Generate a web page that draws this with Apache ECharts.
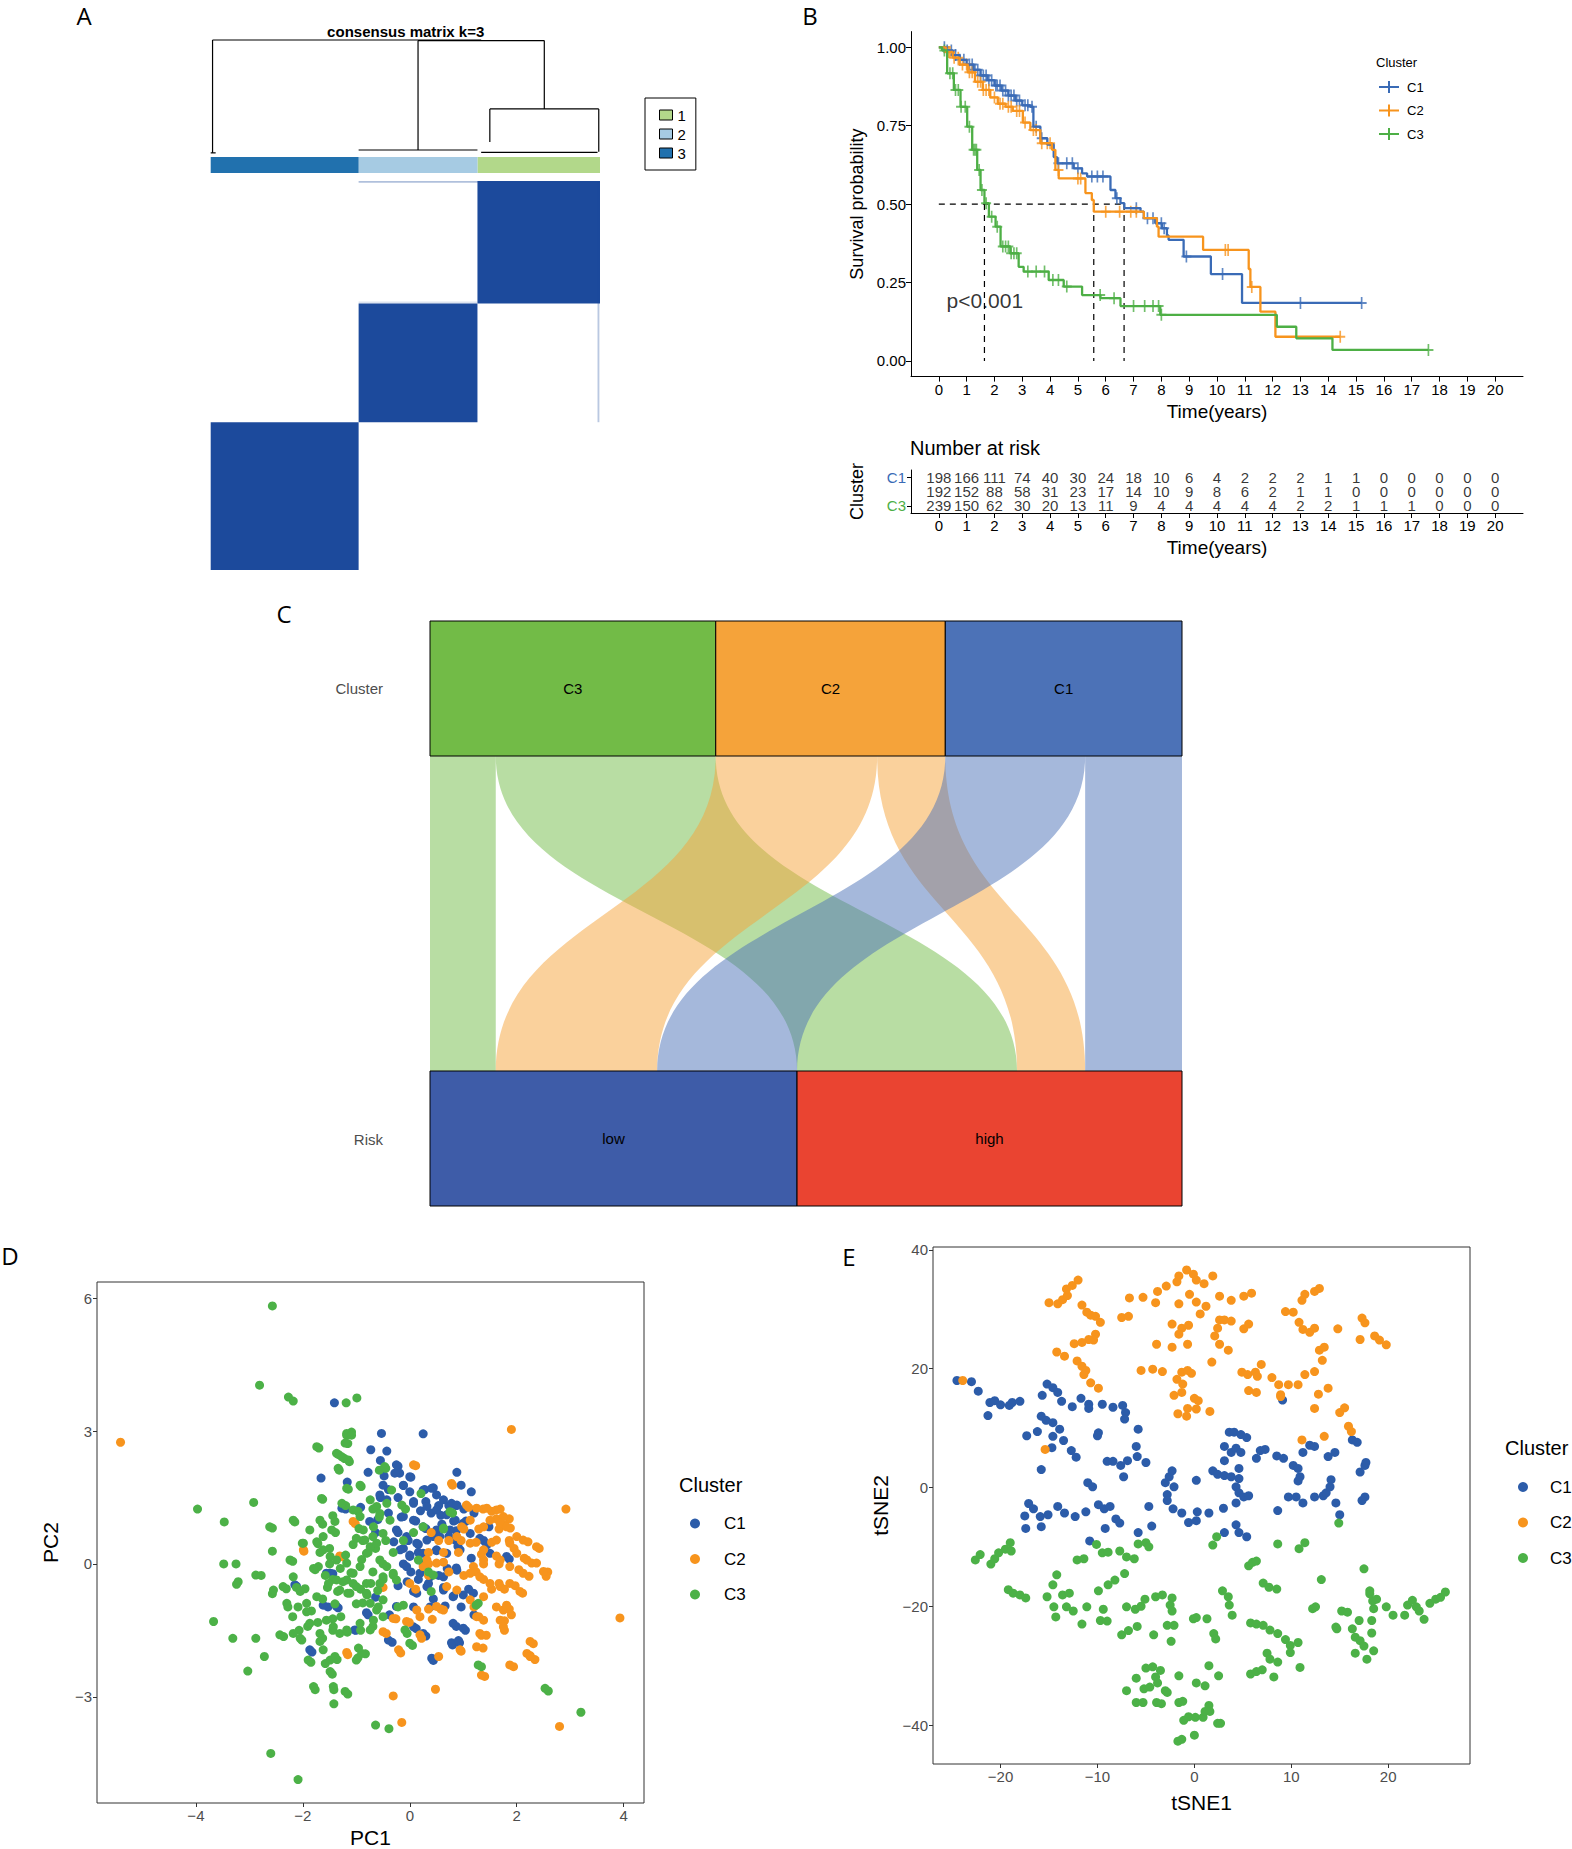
<!DOCTYPE html>
<html>
<head>
<meta charset="utf-8">
<title>Consensus clustering figure</title>
<script src="https://cdn.jsdelivr.net/npm/echarts@6/dist/echarts.min.js"></script>
<style>
html, body { margin: 0; padding: 0; background: #fff; }
#main { width: 1572px; height: 1849px; }
</style>
</head>
<body>
<div id="main"></div>
<script>
var FONT = '"Liberation Sans", Arial, sans-serif';
var LETTER_FONT = '"Open Sans", "DejaVu Sans", sans-serif';

// ---------- A: consensus matrix ----------
var matrixOrder = ['3', '2', '1'];
var matrixSizes = [239, 192, 198];
var bandColors = { '1': '#B2D88A', '2': '#A6CBE3', '3': '#2171AE' };
// faint low-consensus strips [x0, x1, y0, y1, value]
var faintCells = [[239, 629, 626, 629, 0.35], [625, 628, 239, 626, 0.3], [239, 431, 431, 434, 0.15]];
// dendrogram leaves [x, height], merges [childA, childB, height], flat bottoms [from, to, height]
var dendroLeaves = [[3, 0.01], [335, 0.035], [451, 0.105], [627, 0.02]];
var dendroMerges = [[2, 3, 0.395], [1, 4, 0.995], [0, 5, 1.0]];
var dendroFlat = [[0, 8, 0.01], [239, 431, 0.035], [437, 625, 0.015]];

// ---------- B: Kaplan-Meier ----------
var kmNames = ['C1', 'C2', 'C3'];
var kmColors = ['#3A6BB6', '#F7941D', '#4DAF45'];
var kmC1 = [[0, 1], [0.25, 0.99], [0.5, 0.975], [0.75, 0.96], [1.0, 0.945], [1.25, 0.928], [1.5, 0.91], [1.75, 0.895],
  [2.0, 0.878], [2.25, 0.862], [2.5, 0.846], [2.75, 0.83], [3.0, 0.815], [3.29, 0.81], [3.4, 0.747], [3.65, 0.71],
  [3.9, 0.69], [4.13, 0.65], [4.25, 0.63], [4.85, 0.614], [5.15, 0.598], [5.33, 0.588], [6.17, 0.545], [6.35, 0.519],
  [6.53, 0.503], [6.67, 0.487], [7.25, 0.476], [7.37, 0.455], [7.78, 0.439], [8.02, 0.423], [8.2, 0.40], [8.26, 0.386],
  [8.8, 0.333], [9.78, 0.277], [10.9, 0.185], [15.2, 0.185]];
var kmC2 = [[0, 1], [0.25, 0.985], [0.5, 0.967], [0.75, 0.945], [1.04, 0.92], [1.3, 0.89], [1.58, 0.864], [1.85, 0.84],
  [2.12, 0.82], [2.4, 0.81], [2.66, 0.797], [3.02, 0.76], [3.29, 0.736], [3.65, 0.694], [4.07, 0.673], [4.19, 0.609],
  [4.31, 0.582], [5.21, 0.582], [5.27, 0.535], [5.5, 0.513], [5.57, 0.476], [7.25, 0.476], [7.37, 0.455], [7.84, 0.428],
  [7.9, 0.396], [9.5, 0.354], [11.14, 0.293], [11.2, 0.236], [11.56, 0.157], [12.1, 0.077], [14.43, 0.077]];
var kmC3 = [[0, 1], [0.12, 0.99], [0.3, 0.917], [0.54, 0.864], [0.78, 0.81], [1.02, 0.747], [1.2, 0.673], [1.38, 0.609],
  [1.5, 0.545], [1.64, 0.503], [1.8, 0.46], [2.04, 0.428], [2.22, 0.365], [2.57, 0.343], [2.87, 0.30], [3.05, 0.285],
  [3.95, 0.258], [4.49, 0.237], [5.15, 0.21], [5.81, 0.20], [6.53, 0.175], [7.96, 0.147], [12.15, 0.109], [12.85, 0.072],
  [14.15, 0.035], [17.6, 0.035]];
var censorC1 = [0.2, 0.3, 0.45, 0.6, 0.75, 0.9, 1.1, 1.2, 1.3, 1.4, 1.5, 1.6, 1.7, 1.8, 1.9, 2.05, 2.1, 2.2, 2.3, 2.4,
  2.5, 2.6, 2.7, 2.8, 2.9, 3.1, 3.2, 3.35, 3.5, 3.7, 4.3, 4.6, 4.8, 5.0, 5.5, 5.7, 5.9, 6.4, 7.1, 7.5, 7.7, 8.0, 8.1,
  8.9, 10.2, 13.0, 15.2];
var censorC2 = [0.35, 0.4, 0.55, 0.7, 0.85, 1.0, 1.1, 1.2, 1.4, 1.5, 1.6, 1.7, 1.8, 2.0, 2.2, 2.3, 2.5, 2.6, 2.8, 2.9,
  3.1, 3.4, 3.5, 3.7, 3.9, 4.0, 4.3, 5.0, 5.1, 6.0, 6.5, 6.9, 7.1, 10.3, 10.4, 11.25, 14.43];
var censorC3 = [0.2, 0.4, 0.5, 0.6, 0.7, 0.8, 0.95, 1.1, 1.25, 1.3, 1.35, 1.45, 1.55, 1.7, 1.9, 2.1, 2.3, 2.4, 2.5,
  2.6, 2.7, 2.8, 3.2, 3.5, 3.8, 4.1, 4.3, 4.6, 5.8, 6.3, 7.0, 7.4, 7.7, 7.9, 8.0, 17.6];
var medianTimes = [6.66, 5.57, 1.64];
var timeTicks = [0, 1, 2, 3, 4, 5, 6, 7, 8, 9, 10, 11, 12, 13, 14, 15, 16, 17, 18, 19, 20];
var survTicks = [0, 0.25, 0.5, 0.75, 1];
var riskC1 = [198, 166, 111, 74, 40, 30, 24, 18, 10, 6, 4, 2, 2, 2, 1, 1, 0, 0, 0, 0, 0];
var riskC2 = [192, 152, 88, 58, 31, 23, 17, 14, 10, 9, 8, 6, 2, 1, 1, 0, 0, 0, 0, 0, 0];
var riskC3 = [239, 150, 62, 30, 20, 13, 11, 9, 4, 4, 4, 4, 4, 2, 2, 1, 1, 1, 0, 0, 0];

// ---------- C: alluvial ----------
var sankeyTop = ['C3', 'C2', 'C1'];
var sankeyBottom = ['low', 'high'];
var flowToLow = [55, 135, 117];
var flowToHigh = [184, 57, 81];
var sankeyColors = { C3: '#72BB47', C2: '#F5A33A', C1: '#4C72B7', low: '#3E5CA8', high: '#EA4431' };

// ---------- D: PCA ----------
var scatterColors = ['#2C5CA9', '#F7941D', '#4CB147'];
var pcaC1 = [[-1.41, 3.64], [-0.53, 2.95], [0.25, 2.94], [-0.73, 2.58], [-0.43, 2.55], [-0.55, 2.34], [-0.22, 2.21],
  [-0.19, 2.05], [-1.66, 1.94], [-0.78, 2.07], [-0.48, 1.99], [-1.17, 1.85], [0.02, 1.96], [0.88, 2.07], [0.96, 1.78],
  [1.15, 1.63], [-0.12, 1.77], [0.28, 1.68], [0.44, 1.72], [-0.40, 1.68], [-0.55, 1.50], [-0.22, 1.50], [0.07, 1.41],
  [0.30, 1.41], [0.54, 1.32], [0.73, 1.32], [0.87, 1.32], [1.01, 1.24], [1.20, 1.15], [-0.92, 1.28], [-1.20, 1.24],
  [-0.40, 1.15], [-0.16, 1.06], [0.11, 0.97], [0.40, 1.15], [0.58, 1.10], [0.82, 0.97], [1.05, 0.97], [1.48, 0.84],
  [-0.64, 0.71], [-0.22, 0.71], [-0.03, 0.53], [0.16, 0.44], [0.44, 0.62], [0.73, 0.62], [0.87, 0.75], [1.38, 0.53],
  [-0.12, 0.35], [0.16, 0.26], [-0.12, 0], [0.02, -0.18], [0.25, 0], [0.54, -0.26], [0.87, -0.09], [1.15, 0.13],
  [1.86, 0.11], [-1.44, -0.22], [-1.50, -0.22], [-2.12, -0.50], [0.16, -0.35], [0.35, -0.44], [0.63, -0.53],
  [1.10, -0.57], [-0.64, -0.75], [-0.22, -0.49], [0.07, -0.62], [0.44, -0.79], [0.82, -0.72], [-1.53, -0.97],
  [-1.34, -0.99], [-0.78, -1.15], [-0.38, -1.15], [0.07, -0.97], [0.38, -0.97], [0.66, -0.95], [0.96, -0.97],
  [0.87, -1.41], [1.04, -1.50], [0.12, -1.46], [0.30, -1.63], [-1.01, -1.50], [-0.33, -1.77], [-1.83, -1.99],
  [0.80, -1.83], [0.93, -1.78], [0.44, -2.18], [1.20, -1.15], [0.3, 0.8], [0.6, 0.9], [0.0, 0.2], [-0.3, 0.5],
  [0.5, 0.3], [-0.05, -0.4], [0.9, 0.4], [0.2, 1.2], [-0.6, 1.0], [0.7, -0.1],
  [-0.12, 1.78], [0.00, 1.63], [0.25, 1.67], [0.41, 1.71], [0.50, 1.56], [0.63, 1.45], [0.78, 1.37], [0.88, 1.33],
  [0.07, 1.37], [0.32, 1.30], [0.50, 1.22], [0.69, 1.11], [0.85, 0.99], [1.00, 0.92], [-0.12, 1.07], [0.07, 0.99],
  [0.25, 0.84], [0.50, 0.77], [0.75, 0.77], [-0.25, 0.77], [-0.06, 0.62], [0.13, 0.47], [0.32, 0.54], [0.56, 0.62],
  [0.85, 0.54], [1.13, 0.69], [1.31, 0.58], [-0.18, 0.32], [0.00, 0.17], [0.25, 0.24], [0.50, 0.32], [0.69, 0.24],
  [0.94, 0.32], [-0.06, -0.06], [0.19, -0.21], [0.38, -0.29], [0.63, -0.29], [0.88, -0.14], [0.32, -0.51],
  [0.13, -0.66], [0.63, -0.59], [0.81, -0.74], [1.00, -0.70], [1.19, -0.66], [1.44, 0.43], [1.50, 0.24], [1.81, 0.17],
  [-0.75, 0.96], [-0.56, 1.56], [-0.43, 1.45], [-0.50, 1.78], [-0.28, 2.05], [-0.25, 2.24], [0.00, 1.97],
  [-1.27, 1.26], [-1.49, -0.21], [-1.56, -0.21], [-2.15, -0.47], [-1.62, -0.93], [-1.37, -0.96], [-1.03, -1.49],
  [-0.81, -1.10], [-0.25, -0.96], [0.07, -1.42], [0.25, -1.57], [0.81, -1.34], [1.00, -1.45], [0.78, -1.78],
  [0.91, -1.73], [0.41, -2.13], [-0.40, -1.72], [-1.87, -1.94]];
var pcaC2 = [[-5.41, 2.75], [1.90, 3.04], [0.11, 2.22], [0.80, 1.78], [2.92, 1.24], [1.10, 1.28], [1.37, 1.24],
  [1.53, 1.19], [1.69, 1.24], [1.62, 1.02], [1.86, 1.02], [1.77, 0.88], [1.88, 0.81], [1.01, 0.79], [1.29, 0.79],
  [1.67, 0.79], [-1.02, 0.91], [0.40, 0.71], [0.54, 0.53], [0.73, 0.53], [0.96, 0.53], [1.24, 0.49], [1.53, 0.49],
  [1.86, 0.53], [2.00, 0.62], [2.21, 0.50], [1.95, 0.35], [2.42, 0.35], [-1.98, 0.29], [0.35, 0.26], [0.63, 0.26],
  [0.91, 0.26], [1.34, 0.22], [1.62, 0.18], [2.14, 0.13], [2.28, 0.02], [0.35, 0], [0.63, 0.04], [1.38, 0], [1.67, 0],
  [2.58, -0.18], [2.55, -0.28], [2.23, -0.28], [2.04, -0.13], [-1.25, 0.16], [0.35, -0.26], [0.73, -0.18],
  [1.01, -0.26], [1.24, -0.18], [1.38, -0.35], [1.67, -0.44], [1.97, -0.49], [2.11, -0.66], [1.53, -0.57],
  [1.77, -0.57], [-0.50, -0.53], [0.11, -0.57], [0.35, -1.02], [0.58, -1.02], [1.20, -0.97], [1.62, -0.97],
  [1.86, -1.02], [1.90, -1.15], [1.29, -1.19], [1.77, -1.28], [1.77, -1.50], [-0.26, -1.24], [-0.01, -1.32],
  [0.42, -1.25], [-0.44, -1.57], [0.22, -1.68], [1.34, -1.61], [1.43, -1.61], [1.37, -1.90], [0.96, -1.97],
  [2.31, -1.80], [2.25, -2.07], [2.34, -2.16], [-0.17, -2.01], [0.54, -2.09], [-1.16, -2.05], [1.94, -2.32],
  [1.40, -2.54], [0.48, -2.83], [-0.31, -2.98], [-0.15, -3.58], [2.80, -3.67], [3.93, -1.22],
  [1.06, 1.33], [1.25, 1.26], [1.44, 1.26], [1.62, 1.22], [1.75, 1.07], [1.69, 0.92], [1.81, 0.84], [1.50, 0.99],
  [1.38, 0.84], [1.13, 0.99], [0.97, 0.84], [0.88, 0.62], [1.13, 0.47], [1.38, 0.32], [1.62, 0.54], [1.87, 0.47],
  [2.12, 0.54], [2.37, 0.39], [2.00, 0.24], [2.19, 0.09], [2.37, 0.02], [2.50, -0.17], [2.12, -0.21], [1.87, -0.06],
  [1.69, 0.09], [1.38, 0.09], [1.19, -0.06], [1.13, -0.21], [1.31, -0.29], [1.50, -0.44], [1.69, -0.51],
  [1.87, -0.44], [2.06, -0.62], [1.38, -0.74], [1.13, -0.81], [0.88, -0.59], [0.69, -0.51], [0.50, 0.02],
  [0.32, 0.09], [0.25, -0.06], [0.00, -0.44], [0.13, -1.04], [0.19, -1.19], [0.50, -0.96], [0.63, -1.04],
  [1.25, -1.19], [1.38, -1.27], [1.69, -1.27], [1.75, -1.04], [1.81, -0.93], [1.75, -1.42], [1.31, -1.57],
  [1.25, -1.87], [2.25, -1.75], [2.19, -2.02], [2.25, -2.09], [1.87, -2.28], [1.34, -2.51], [0.94, -1.94],
  [0.19, -1.60], [-0.06, -1.30], [-0.31, -1.23], [-0.50, -1.53], [-0.21, -1.94], [-1.18, -2.00], [-1.99, 0.32],
  [-1.31, 0.18], [-1.06, 0.96], [0.07, 2.24], [0.78, 1.82]];
var pcaC3 = [[-2.57, 5.83], [-2.81, 4.04], [-2.27, 3.77], [-2.18, 3.68], [-1.19, 3.64], [-0.99, 3.75], [-1.18, 2.91],
  [-1.09, 2.98], [-1.16, 2.72], [-1.70, 2.62], [-1.33, 2.47], [-1.22, 2.38], [-1.13, 2.31], [-1.32, 2.12],
  [-0.57, 2.12], [-0.45, 2.16], [-0.91, 1.75], [-1.15, 1.69], [-1.63, 1.46], [-2.92, 1.39], [-3.97, 1.24],
  [-3.47, 0.95], [-2.15, 0.95], [-2.57, 0.81], [-1.44, 1.09], [-1.20, 1.32], [-0.97, 1.19], [-0.69, 1.24],
  [-0.57, 1.06], [-1.63, 0.90], [-1.39, 0.71], [-2.01, 0.47], [-1.72, 0.46], [-2.57, 0.29], [-2.19, 0.06],
  [-3.48, 0], [-3.25, 0], [-1.68, 0.26], [-1.50, 0.35], [-1.06, 0.44], [-0.88, 0.53], [-0.69, 0.62], [-0.64, 0.35],
  [-0.45, 0.53], [-0.78, 0.26], [-0.50, 0], [-0.31, 0.26], [-0.12, 0.53], [-0.08, 1.24], [0.21, 1.59], [0.07, 0.71],
  [-2.88, -0.25], [-2.78, -0.26], [-3.21, -0.40], [-3.24, -0.46], [-2.31, -0.56], [-2.12, -0.53], [-1.96, -0.56],
  [-2.57, -0.67], [-1.77, -0.13], [-1.58, -0.26], [-1.44, -0.35], [-1.25, -0.40], [-1.06, -0.44], [-1.54, -0.53],
  [-1.35, -0.62], [-1.16, -0.66], [-0.92, -0.57], [-0.73, -0.44], [-0.69, -0.18], [-0.50, -0.35], [-0.31, -0.25],
  [-2.28, -0.97], [-2.09, -0.97], [-2.19, -1.19], [-1.84, -1.06], [-1.63, -0.79], [-1.72, -1.32], [-1.44, -1.24],
  [-1.29, -1.19], [-0.88, -0.88], [-0.59, -0.97], [-0.50, -1.19], [-0.22, -0.97], [-0.12, -0.93], [-3.67, -1.30],
  [-3.31, -1.68], [-2.88, -1.68], [-2.36, -1.64], [-2.07, -1.50], [-1.91, -1.41], [-2.02, -1.72], [-1.63, -1.68],
  [-1.44, -1.50], [-1.17, -1.54], [-0.92, -1.50], [-0.69, -1.41], [-0.05, -1.57], [0.05, -1.84], [-2.72, -2.09],
  [-3.03, -2.42], [-1.85, -2.22], [-1.58, -2.25], [-1.36, -2.16], [-0.97, -2.12], [-0.83, -2.03], [-1.45, -2.49],
  [-1.77, -2.84], [-1.42, -2.84], [-1.16, -2.94], [-1.42, -3.16], [-0.64, -3.64], [-0.39, -3.72], [-2.60, -4.28],
  [-2.09, -4.87], [1.34, -2.32], [2.59, -2.87], [3.20, -3.35], [1.24, -0.93], [0.80, 1.15], [0.63, 0.79],
  [0.35, -0.18], [0.40, -0.62], [0.16, 0.09], [-1.3, -0.1], [-1.1, -0.2], [-0.9, 0.1], [-1.2, 0.2], [-0.8, -0.7],
  [-1.0, -0.9], [-1.4, -0.9], [-0.6, -0.6], [-1.5, 0.0], [-0.95, 0.8],
  [-1.18, 2.95], [-1.09, 2.91], [-1.21, 2.73], [-1.37, 2.50], [-1.27, 2.42], [-1.15, 2.35], [-1.34, 2.16],
  [-1.74, 2.65], [-1.18, 1.71], [-0.93, 1.78], [-1.65, 1.48], [-1.27, 1.37], [-1.06, 1.22], [-0.93, 1.07],
  [-0.74, 1.45], [-0.62, 1.30], [-0.43, 1.37], [-0.56, 1.14], [-0.37, 0.99], [-0.68, 0.84], [-0.87, 0.77],
  [-1.00, 0.58], [-0.84, 0.54], [-0.74, 0.39], [-0.62, 0.47], [-0.50, 0.69], [-0.81, 0.24], [-0.56, 0.09],
  [-0.43, -0.06], [-0.31, -0.21], [-0.50, -0.29], [-0.25, -0.36], [-1.74, 0.50], [-1.62, 0.62], [-1.46, 0.77],
  [-1.40, 0.96], [-1.68, 0.99], [-1.87, 0.77], [-1.99, 0.47], [-1.62, 0.32], [-1.49, 0.17], [-1.71, -0.06],
  [-1.80, -0.10], [-1.37, 0.09], [-1.18, 0.02], [-1.06, -0.21], [-0.93, -0.06], [-1.18, -0.36], [-1.37, -0.36],
  [-1.52, -0.44], [-1.31, -0.59], [-1.12, -0.66], [-1.00, -0.51], [-0.81, -0.44], [-0.81, -0.66], [-0.56, -0.44],
  [-1.74, -0.74], [-1.93, -0.89], [-2.05, -0.62], [-2.24, 0.09], [-2.18, -0.29], [-2.37, -0.51], [-2.30, -0.89],
  [-2.55, -0.59], [-2.62, 0.84], [-2.18, 0.99], [-1.93, -1.08], [-1.87, -1.34], [-1.56, -1.27], [-1.68, -1.57],
  [-1.43, -1.42], [-1.31, -1.57], [-1.18, -1.49], [-0.93, -1.34], [-0.74, -0.89], [-0.62, -1.04], [-0.50, -0.81],
  [-0.68, -1.27], [-0.74, -1.49], [-2.05, -1.68], [-2.18, -1.57], [-2.43, -1.60], [-1.68, -1.75], [-1.62, -1.94],
  [-1.49, -2.17], [-0.96, -1.90], [-0.90, -2.02], [-1.00, -2.17], [-1.40, -2.09], [-1.90, -2.17], [-1.49, -2.43],
  [-1.80, -2.77], [-1.43, -2.77], [-1.21, -2.88], [-0.09, -1.49], [0.00, -1.79], [0.44, -0.25], [0.25, 0.84],
  [0.63, 0.81], [0.75, 1.18], [-0.15, 1.33], [-0.34, 1.67], [-0.47, 2.20], [1.28, -0.89], [1.28, -2.28],
  [2.53, -2.81]];

// ---------- E: tSNE ----------
var tsneC1 = [[-24.5, 18.0], [-23.0, 17.8], [-22.3, 16.2], [-21.3, 12.1], [-21.1, 14.3], [-20.6, 14.6], [-20.0, 13.9],
  [-19.1, 13.8], [-18.8, 14.3], [-18.0, 14.5], [-15.7, 15.5], [-15.2, 17.4], [-14.6, 16.8], [-14.1, 16.0], [-13.7, 14.5],
  [-15.8, 12.0], [-15.3, 11.3], [-14.6, 10.9], [-13.9, 9.8], [-14.6, 8.6], [-13.5, 7.9], [-12.7, 6.2], [-12.2, 5.1],
  [-17.3, 8.7], [-16.2, 9.4], [-15.8, 3.0], [-14.7, 6.7], [-12.6, 13.6], [-11.7, 15.0], [-10.9, 14.0], [-10.9, 13.3],
  [-9.5, 14.0], [-8.4, 13.5], [-7.4, 13.8], [-7.1, 12.6], [-7.2, 11.5], [-9.9, 9.2], [-10.0, 8.7], [-5.8, 9.8],
  [-6.0, 6.9], [-5.9, 5.2], [-5.0, 4.2], [-9.0, 4.4], [-8.4, 4.4], [-7.6, 3.7], [-7.3, 1.8], [-6.9, 4.5], [-11.0, 0.8],
  [-10.5, 0.1], [-17.1, -2.7], [-17.5, -4.8], [-17.4, -6.9], [-16.6, -3.6], [-15.9, -4.9], [-15.8, -6.6], [-15.1, -4.6],
  [-14.1, -3.2], [-13.4, -4.3], [-12.3, -4.9], [-11.2, -4.1], [-9.9, -2.9], [-9.3, -3.6], [-8.7, -3.2], [-9.2, -6.9],
  [-8.1, -5.3], [-7.7, -6.0], [-5.8, -7.6], [-4.7, -3.2], [-4.4, -6.5], [-10.8, -9.0], [-3.0, 0.8], [-2.6, 1.8],
  [-2.3, 2.8], [-2.1, 0.1], [-2.8, -1.2], [-2.8, -2.2], [-2.2, -3.6], [-1.3, -4.3], [-0.6, -5.9], [0.2, -5.6],
  [0.3, -4.1], [1.5, -4.3], [0.2, 1.2], [1.9, 2.8], [2.4, 2.2], [3.1, 2.0], [3.8, 1.8], [4.6, 1.5], [4.3, 0.1],
  [3.1, 4.5], [3.8, 5.9], [4.3, 6.6], [4.8, 5.9], [3.1, 6.9], [3.6, 9.3], [4.1, 9.3], [4.8, 8.9], [5.4, 8.4], [4.6, 3.2],
  [4.6, -0.9], [5.1, -1.6], [5.6, -1.4], [4.3, -2.6], [3.0, -3.5], [4.3, -6.3], [4.6, -7.6], [5.4, -8.3], [3.1, -7.6],
  [6.4, 4.9], [6.8, 6.2], [7.3, 6.4], [8.5, 5.3], [9.2, 4.9], [8.6, -3.9], [9.7, -1.6], [10.5, -1.6], [11.2, -2.6],
  [12.4, -1.6], [13.3, -1.4], [13.6, -0.9], [10.2, 3.7], [10.7, 3.2], [10.9, 1.8], [10.7, 1.1], [11.2, 5.9], [11.9, 7.1],
  [12.4, 6.9], [13.8, 5.2], [14.5, 5.9], [14.1, 1.3], [14.0, 0.1], [14.6, -2.6], [15.0, -4.6], [16.3, 8.0], [16.8, 7.6],
  [17.1, 2.6], [17.6, 3.7], [17.7, 4.2], [17.6, -1.6], [17.3, -2.2], [9.1, 14.7]];
var tsneC2 = [[-23.9, 18.0], [-15.0, 31.1], [-14.1, 30.9], [-13.6, 31.6], [-13.1, 32.3], [-13.2, 33.4], [-12.6, 34.0],
  [-12.0, 34.9], [-11.6, 30.7], [-11.1, 29.5], [-10.7, 29.0], [-10.2, 28.8], [-9.7, 27.8], [-10.2, 25.8], [-10.4, 24.8],
  [-10.9, 24.9], [-11.6, 24.4], [-12.4, 24.2], [-14.2, 22.8], [-13.4, 22.1], [-12.1, 21.3], [-11.6, 20.4], [-11.2, 19.7],
  [-11.4, 19.0], [-10.7, 17.6], [-9.9, 16.7], [-7.5, 28.6], [-6.8, 28.8], [-6.7, 31.9], [-5.3, 32.0], [-4.0, 31.1],
  [-3.8, 33.0], [-2.9, 33.9], [-1.8, 34.6], [-1.6, 35.6], [-0.8, 36.6], [-0.1, 35.9], [0.2, 34.9], [1.0, 34.3],
  [1.9, 35.6], [-1.6, 30.9], [-0.5, 32.5], [0.2, 31.2], [1.2, 30.5], [0.6, 29.2], [2.6, 32.2], [3.8, 31.5], [5.1, 32.2],
  [5.9, 32.7], [-2.3, 27.5], [-1.3, 26.8], [-0.6, 27.3], [-1.6, 25.8], [-0.7, 24.1], [-2.3, 23.6], [-3.9, 24.1],
  [2.6, 28.2], [2.4, 26.8], [2.1, 25.5], [2.6, 24.1], [3.5, 23.1], [3.1, 28.2], [3.8, 28.0], [1.8, 21.1], [5.1, 26.7],
  [5.6, 27.5], [-5.5, 19.7], [-4.3, 19.9], [-3.3, 19.5], [-1.3, 19.4], [-0.7, 19.7], [-0.3, 19.2], [-1.8, 18.2],
  [-1.2, 17.4], [-2.1, 15.5], [-1.3, 16.0], [0.0, 15.0], [0.4, 14.6], [-1.7, 12.4], [-0.8, 12.0], [-0.7, 13.3],
  [0.2, 13.2], [1.6, 12.8], [4.9, 19.4], [5.5, 19.0], [6.3, 19.4], [6.9, 20.7], [6.5, 18.7], [5.6, 16.3], [6.4, 16.0],
  [8.0, 18.5], [8.7, 17.3], [8.9, 15.3], [9.7, 17.3], [10.7, 17.3], [11.4, 19.0], [12.4, 19.5], [9.4, 29.6],
  [10.2, 29.5], [10.8, 27.8], [11.2, 26.6], [11.9, 26.1], [12.4, 26.8], [11.4, 32.5], [11.1, 31.5], [12.4, 33.0],
  [12.9, 33.5], [12.9, 23.1], [13.4, 23.6], [13.2, 21.4], [12.4, 13.3], [12.8, 15.7], [13.8, 16.7], [14.8, 26.7],
  [15.0, 12.6], [15.5, 13.4], [15.9, 10.3], [16.2, 9.4], [17.3, 28.5], [17.6, 27.7], [17.1, 24.9], [18.6, 25.5],
  [19.1, 24.8], [19.8, 24.0], [11.1, 8.0], [13.4, 8.6], [-15.4, 6.4], [8.9, 15.6]];
var tsneC3 = [[-22.6, -12.2], [-22.1, -11.3], [-21.0, -12.9], [-20.6, -12.0], [-20.2, -11.0], [-19.5, -10.4],
  [-19.0, -9.3], [-18.9, -10.7], [-19.2, -17.2], [-18.7, -17.8], [-18.0, -18.1], [-17.4, -18.6], [-15.2, -18.4],
  [-14.6, -16.4], [-14.2, -14.7], [-13.6, -18.1], [-12.9, -17.8], [-14.5, -20.1], [-14.3, -21.8], [-13.2, -20.1],
  [-12.5, -20.8], [-11.6, -23.0], [-11.1, -20.1], [-9.4, -20.5], [-9.7, -22.4], [-9.0, -22.5], [-12.1, -12.2],
  [-11.4, -12.0], [-10.1, -9.6], [-9.5, -11.0], [-8.9, -10.9], [-7.7, -10.7], [-7.0, -11.7], [-6.2, -12.0],
  [-5.8, -9.5], [-5.0, -9.3], [-4.7, -10.0], [-9.9, -17.4], [-8.9, -16.4], [-8.2, -15.6], [-7.2, -14.5],
  [-7.0, -20.1], [-6.1, -20.5], [-5.5, -20.0], [-5.1, -18.8], [-4.0, -18.4], [-3.3, -18.1], [-2.3, -18.6],
  [-2.5, -19.8], [-2.3, -20.8], [-2.1, -23.2], [-2.8, -23.2], [-2.4, -25.9], [-7.5, -24.8], [-6.8, -24.1],
  [-5.9, -23.4], [-4.2, -24.8], [-0.1, -22.1], [0.2, -21.9], [1.3, -22.1], [2.0, -24.6], [2.2, -25.5], [2.9, -17.4],
  [3.5, -18.4], [3.6, -19.8], [3.9, -21.5], [1.9, -9.7], [2.3, -8.3], [5.6, -13.2], [6.0, -12.6], [6.4, -12.4],
  [7.1, -16.1], [7.7, -16.8], [8.5, -17.1], [8.6, -9.5], [10.8, -10.3], [11.4, -9.3], [13.1, -15.5], [5.8, -22.8],
  [6.4, -23.0], [7.1, -23.2], [7.8, -24.0], [8.6, -24.6], [9.4, -25.6], [9.9, -26.6], [10.7, -26.1], [9.9, -27.8],
  [7.5, -27.9], [7.8, -28.9], [8.6, -29.4], [8.2, -31.9], [10.9, -30.3], [5.8, -31.4], [6.4, -31.0], [7.0, -30.7],
  [12.2, -20.4], [12.5, -20.1], [14.6, -23.5], [14.7, -23.8], [15.2, -20.8], [15.8, -21.0], [17.0, -22.4],
  [16.3, -23.8], [16.6, -25.2], [17.1, -25.8], [16.6, -27.9], [17.5, -26.7], [17.8, -28.9], [18.5, -27.5],
  [18.3, -24.5], [18.3, -22.4], [18.5, -20.4], [18.4, -19.1], [18.8, -18.8], [18.1, -17.9], [18.1, -17.4],
  [19.8, -20.1], [20.5, -21.5], [21.7, -21.5], [22.0, -19.8], [22.5, -19.0], [22.9, -20.1], [23.2, -20.8],
  [23.7, -22.2], [24.3, -19.5], [24.9, -18.8], [25.4, -18.5], [25.9, -17.6], [17.5, -13.7], [14.9, -6.0],
  [-5.0, -30.4], [-4.3, -30.2], [-3.5, -30.8], [-6.0, -32.1], [-5.2, -33.9], [-4.6, -33.6], [-4.0, -31.9],
  [-3.8, -32.9], [-3.0, -34.2], [-2.8, -34.5], [-7.0, -34.2], [-6.0, -36.2], [-5.3, -36.2], [-3.9, -36.2],
  [-3.4, -36.4], [-1.6, -31.7], [0.2, -32.9], [1.1, -33.4], [1.5, -30.0], [2.5, -31.7], [-1.6, -36.2], [-1.2, -36.0],
  [-1.1, -39.2], [-0.6, -38.6], [0.1, -38.7], [0.9, -38.7], [1.1, -37.7], [1.5, -36.7], [1.6, -37.7], [2.4, -39.7],
  [2.7, -39.7], [-1.7, -42.7], [-1.3, -42.4], [0.0, -41.7]];

// ---------- helpers ----------
function survAt(curve, t) {
  var s = 1;
  for (var i = 0; i < curve.length; i++) {
    if (curve[i][0] <= t) s = curve[i][1];
  }
  return s;
}

function minus(v) {
  return String(v).replace('-', '\u2212');
}

function segmentItem(style) {
  return function (params, api) {
    var p1 = api.coord([api.value(0), api.value(1)]);
    var p2 = api.coord([api.value(2), api.value(3)]);
    return { type: 'line', shape: { x1: p1[0], y1: p1[1], x2: p2[0], y2: p2[1] }, style: style };
  };
}

function bandItem(params, api) {
  var p0 = api.coord([api.value(0), 1]);
  var p1 = api.coord([api.value(1), 0]);
  return {
    type: 'rect',
    shape: { x: p0[0], y: p0[1], width: p1[0] - p0[0], height: p1[1] - p0[1] },
    style: { fill: api.visual('color') }
  };
}

function cellItem(params, api) {
  var p0 = api.coord([api.value(0), api.value(3)]);
  var p1 = api.coord([api.value(1), api.value(2)]);
  return {
    type: 'rect',
    shape: { x: p0[0], y: p0[1], width: p1[0] - p0[0], height: p1[1] - p0[1] },
    style: { fill: 'rgba(28,74,156,' + api.value(4) + ')' }
  };
}

// consensus blocks from cluster sizes
var heatCells = [];
var bandData = {};
var start = 0;
for (var i = 0; i < matrixOrder.length; i++) {
  var end = start + matrixSizes[i];
  heatCells.push([start, end, start, end, 1]);
  bandData[matrixOrder[i]] = [[start, end]];
  start = end;
}
var totalSamples = start;
heatCells = heatCells.concat(faintCells);

// dendrogram segments from the merge table
var nodes = dendroLeaves.slice();
var dendroSegs = [];
dendroMerges.forEach(function (m) {
  var a = nodes[m[0]], b = nodes[m[1]], h = m[2];
  dendroSegs.push([a[0], a[1], a[0], h]);
  dendroSegs.push([b[0], b[1], b[0], h]);
  dendroSegs.push([a[0], h, b[0], h]);
  nodes.push([(a[0] + b[0]) / 2, h]);
});
dendroFlat.forEach(function (f) {
  dendroSegs.push([f[0], f[2], f[1], f[2]]);
});

// median guide lines
var medianSegs = [[0, 0.5, Math.max.apply(null, medianTimes), 0.5]];
medianTimes.forEach(function (t) {
  medianSegs.push([t, 0.5, t, 0]);
});

var kmCurves = [kmC1, kmC2, kmC3];
var censors = [censorC1, censorC2, censorC3];
var riskRows = [riskC1, riskC2, riskC3];
var riskData = [];
for (var c = 0; c < 3; c++) {
  for (var k = 0; k < timeTicks.length; k++) {
    riskData.push([timeTicks[k], kmNames[c], riskRows[c][k]]);
  }
}

// sankey nodes and links
var sankeyNodes = sankeyTop.concat(sankeyBottom).map(function (n) {
  return { name: n, itemStyle: { color: sankeyColors[n] } };
});
var sankeyLinks = [];
sankeyTop.forEach(function (n, idx) {
  sankeyLinks.push({ source: n, target: 'low', value: flowToLow[idx] });
  sankeyLinks.push({ source: n, target: 'high', value: flowToHigh[idx] });
});

var PLUS = 'path://M-1,-6h2v12h-2z M-6,-1h12v2h-12z';
var KM_ICON = 'path://M0,5h20v2H0z M9,0h2v12H9z';

// ---------- axes ----------
function hiddenAxis(grid, min, max) {
  return { gridIndex: grid, type: 'value', min: min, max: max, show: false };
}

function kmX(grid, gap) {
  return {
    gridIndex: grid, type: 'value', min: -1, max: 21,
    axisLine: { show: true, onZero: false, lineStyle: { color: '#000', width: 1 } },
    axisTick: { show: true, length: 5, customValues: timeTicks, lineStyle: { color: '#000' } },
    axisLabel: { customValues: timeTicks, color: '#000', fontSize: 15, fontFamily: FONT, margin: 5 },
    splitLine: { show: false },
    name: 'Time(years)', nameLocation: 'middle', nameGap: gap,
    nameTextStyle: { fontSize: 19, color: '#000', fontFamily: FONT }
  };
}

function boxAxis(grid, min, max, ticks, name, gap, vertical) {
  return {
    gridIndex: grid, type: 'value', min: min, max: max,
    axisLine: { show: false, onZero: false },
    axisTick: { show: true, length: 4, customValues: ticks, lineStyle: { color: '#333' } },
    axisLabel: { customValues: ticks, color: '#4D4D4D', fontSize: 15, fontFamily: FONT, margin: 5, formatter: minus },
    splitLine: { show: false },
    name: name, nameLocation: 'middle', nameGap: gap, nameRotate: vertical ? 90 : 0,
    nameTextStyle: { fontSize: 21, color: '#000', fontFamily: FONT }
  };
}

var xAxes = [
  hiddenAxis(0, 0, totalSamples),
  hiddenAxis(1, 0, totalSamples),
  hiddenAxis(2, 0, totalSamples),
  kmX(3, 25),
  kmX(4, 25),
  boxAxis(5, -5.85, 4.38, [-4, -2, 0, 2, 4], 'PC1', 24, false),
  boxAxis(6, -26.97, 28.44, [-20, -10, 0, 10, 20], 'tSNE1', 28, false)
];

var yAxes = [
  hiddenAxis(0, 0, 1),
  hiddenAxis(1, 0, 1),
  hiddenAxis(2, 0, totalSamples),
  {
    gridIndex: 3, type: 'value', min: -0.05, max: 1.05,
    axisLine: { show: true, onZero: false, lineStyle: { color: '#000' } },
    axisTick: { show: true, length: 5, customValues: survTicks, lineStyle: { color: '#000' } },
    axisLabel: {
      customValues: survTicks, color: '#000', fontSize: 15, fontFamily: FONT, margin: 5,
      formatter: function (v) { return v.toFixed(2); }
    },
    splitLine: { show: false },
    name: 'Survival probability', nameLocation: 'middle', nameGap: 45, nameRotate: 90,
    nameTextStyle: { fontSize: 18, color: '#000', fontFamily: FONT }
  },
  {
    gridIndex: 4, type: 'category', data: ['C3', 'C2', 'C1'],
    axisLine: { show: true, onZero: false, lineStyle: { color: '#000' } },
    axisTick: { show: true, length: 4, alignWithLabel: true, lineStyle: { color: '#000' } },
    axisLabel: {
      fontSize: 15, fontFamily: FONT, margin: 5,
      color: function (v) { return kmColors[kmNames.indexOf(v)]; }
    },
    name: 'Cluster', nameLocation: 'middle', nameGap: 45, nameRotate: 90,
    nameTextStyle: { fontSize: 18, color: '#000', fontFamily: FONT }
  },
  boxAxis(5, -5.4, 6.37, [-3, 0, 3, 6], 'PC2', 36, true),
  boxAxis(6, -46.55, 40.47, [-40, -20, 0, 20, 40], 'tSNE2', 42, true)
];

// ---------- series ----------
var series = [];

series.push({
  type: 'custom', name: 'dendrogram', xAxisIndex: 0, yAxisIndex: 0,
  renderItem: segmentItem({ stroke: '#000', lineWidth: 1.2 }),
  data: dendroSegs, silent: true
});

['1', '2', '3'].forEach(function (k) {
  series.push({
    type: 'custom', name: k, xAxisIndex: 1, yAxisIndex: 1,
    itemStyle: { color: bandColors[k] },
    renderItem: bandItem, data: bandData[k], silent: true
  });
});

series.push({
  type: 'custom', name: 'consensus', xAxisIndex: 2, yAxisIndex: 2,
  renderItem: cellItem, data: heatCells, silent: true
});

for (var s = 0; s < 3; s++) {
  series.push({
    type: 'line', name: kmNames[s], xAxisIndex: 3, yAxisIndex: 3,
    step: 'end', symbol: 'none', data: kmCurves[s],
    lineStyle: { color: kmColors[s], width: 2.3 },
    itemStyle: { color: kmColors[s] }, silent: true
  });
}
for (var s2 = 0; s2 < 3; s2++) {
  (function (idx) {
    series.push({
      type: 'scatter', name: kmNames[idx] + ' censor', xAxisIndex: 3, yAxisIndex: 3,
      symbol: PLUS, symbolSize: [10, 12],
      itemStyle: { color: kmColors[idx] },
      data: censors[idx].map(function (t) { return [t, survAt(kmCurves[idx], t)]; }),
      silent: true
    });
  })(s2);
}

series.push({
  type: 'custom', name: 'median', xAxisIndex: 3, yAxisIndex: 3,
  renderItem: segmentItem({ stroke: '#000', lineWidth: 1.2, lineDash: [6, 5] }),
  data: medianSegs, silent: true, z: 1
});

series.push({
  type: 'scatter', name: 'pvalue', xAxisIndex: 3, yAxisIndex: 3,
  symbolSize: 0, data: [[0.28, 0.193]], silent: true,
  label: { show: true, position: 'right', distance: 0, formatter: 'p<0.001', fontSize: 21, color: '#000', fontFamily: FONT }
});

series.push({
  type: 'scatter', name: 'risk', xAxisIndex: 4, yAxisIndex: 4,
  symbolSize: 0, data: riskData, silent: true,
  label: {
    show: true, position: 'inside', fontSize: 15, color: '#000', fontFamily: FONT,
    formatter: function (p) { return String(p.value[2]); }
  }
});

var pcaSets = [pcaC1, pcaC2, pcaC3];
var tsneSets = [tsneC1, tsneC2, tsneC3];
for (var q = 0; q < 3; q++) {
  series.push({
    type: 'scatter', name: 'p' + kmNames[q], xAxisIndex: 5, yAxisIndex: 5,
    symbolSize: 9, data: pcaSets[q], itemStyle: { color: scatterColors[q], opacity: 1 }, silent: true
  });
}
for (var r = 0; r < 3; r++) {
  series.push({
    type: 'scatter', name: 't' + kmNames[r], xAxisIndex: 6, yAxisIndex: 6,
    symbolSize: 9, data: tsneSets[r], itemStyle: { color: scatterColors[r], opacity: 1 }, silent: true
  });
}

series.push({
  type: 'sankey', orient: 'vertical',
  left: 430, top: 621, width: 752, height: 585,
  nodeWidth: 135, nodeGap: 0, layoutIterations: 0, draggable: false,
  data: sankeyNodes, links: sankeyLinks,
  label: { show: true, position: 'inside', color: '#000', fontSize: 15, fontFamily: FONT },
  itemStyle: { borderColor: '#000', borderWidth: 1, opacity: 1 },
  lineStyle: { color: 'source', opacity: 0.5, curveness: 0.5 },
  emphasis: { disabled: true }, silent: true
});

// ---------- text ----------
function txt(x, y, text, size, opts) {
  opts = opts || {};
  return {
    type: 'text', x: x, y: y, silent: true,
    style: {
      text: text, fontSize: size, fontFamily: opts.font || FONT, fontWeight: opts.weight || 'normal',
      fill: opts.color || '#000', align: opts.align || 'left', verticalAlign: 'middle'
    }
  };
}

var graphics = [
  txt(84, 15, 'A', 24, { font: LETTER_FONT, align: 'center' }),
  txt(810, 15, 'B', 24, { font: LETTER_FONT, align: 'center' }),
  txt(284, 613, 'C', 24, { font: LETTER_FONT, align: 'center' }),
  txt(10, 1255, 'D', 24, { font: LETTER_FONT, align: 'center' }),
  txt(849, 1256, 'E', 24, { font: LETTER_FONT, align: 'center' }),
  txt(405.7, 31, 'consensus matrix k=3', 15, { weight: 'bold', align: 'center' }),
  txt(1376, 62, 'Cluster', 13),
  txt(910, 448, 'Number at risk', 20),
  txt(383, 688, 'Cluster', 15, { color: '#4D4D4D', align: 'right' }),
  txt(383, 1139, 'Risk', 15, { color: '#4D4D4D', align: 'right' }),
  txt(679, 1485, 'Cluster', 20),
  txt(1505, 1448, 'Cluster', 20)
];

var option = {
  animation: false,
  backgroundColor: '#fff',
  textStyle: { fontFamily: FONT },
  grid: [
    { left: 210.7, top: 40, width: 389.3, height: 114 },
    { left: 210.7, top: 157, width: 389.3, height: 16 },
    { left: 210.7, top: 181, width: 389.3, height: 389 },
    { left: 911, top: 31.6, width: 612, height: 345 },
    { left: 911, top: 470, width: 612, height: 43 },
    { left: 97, top: 1282, width: 547, height: 521, show: true, borderColor: '#333', borderWidth: 1, backgroundColor: 'transparent' },
    { left: 933, top: 1247, width: 537, height: 517, show: true, borderColor: '#333', borderWidth: 1, backgroundColor: 'transparent' }
  ],
  xAxis: xAxes,
  yAxis: yAxes,
  legend: [
    {
      data: ['1', '2', '3'].map(function (k) {
        return { name: k, icon: 'rect', itemStyle: { borderColor: '#000', borderWidth: 1 } };
      }),
      orient: 'vertical', left: 645, top: 98, selectedMode: false,
      itemWidth: 13, itemHeight: 10, itemGap: 3,
      padding: [9, 10, 9, 14], borderColor: '#000', borderWidth: 1,
      textStyle: { fontSize: 15, lineHeight: 16, color: '#000', fontFamily: FONT }
    },
    {
      data: kmNames.map(function (n) { return { name: n, icon: KM_ICON }; }),
      orient: 'vertical', left: 1379, top: 79.5, selectedMode: false,
      itemWidth: 20, itemHeight: 12, itemGap: 8.5, padding: 0,
      textStyle: { fontSize: 13, lineHeight: 15, color: '#000', fontFamily: FONT, padding: [0, 0, 0, 3] }
    },
    {
      data: ['pC1', 'pC2', 'pC3'].map(function (n) { return { name: n, icon: 'circle' }; }),
      formatter: function (n) { return n.slice(1); },
      orient: 'vertical', left: 690, top: 1514.5, selectedMode: false,
      itemWidth: 10, itemHeight: 10, itemGap: 17.5, padding: 0,
      textStyle: { fontSize: 17, lineHeight: 18, color: '#000', fontFamily: FONT, padding: [0, 0, 0, 19] }
    },
    {
      data: ['tC1', 'tC2', 'tC3'].map(function (n) { return { name: n, icon: 'circle' }; }),
      formatter: function (n) { return n.slice(1); },
      orient: 'vertical', left: 1518, top: 1478, selectedMode: false,
      itemWidth: 10, itemHeight: 10, itemGap: 17.5, padding: 0,
      textStyle: { fontSize: 17, lineHeight: 18, color: '#000', fontFamily: FONT, padding: [0, 0, 0, 17] }
    }
  ],
  graphic: graphics,
  series: series
};

var chart = echarts.init(document.getElementById('main'), null, { renderer: 'svg' });
chart.setOption(option);
</script>
</body>
</html>
